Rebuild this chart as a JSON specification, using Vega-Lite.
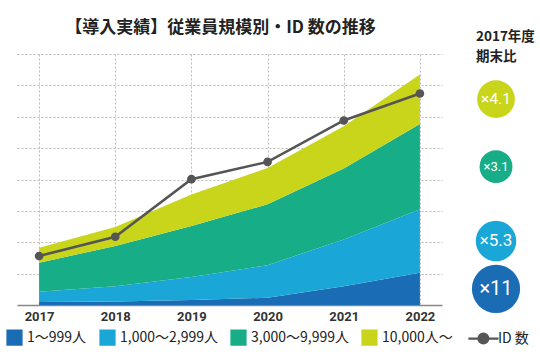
{
  "$schema": "https://vega.github.io/schema/vega-lite/v6.json",
  "padding": {"left": 6, "top": 19, "right": 0, "bottom": 2},
  "background": "white",
  "bounds": "flush",
  "spacing": 9,
  "datasets": {
    "areas": [
      {"year": 2017, "category": "1〜999人", "value": 0.95},
      {"year": 2017, "category": "1,000〜2,999人", "value": 3.3},
      {"year": 2017, "category": "3,000〜9,999人", "value": 9.25},
      {"year": 2017, "category": "10,000人〜", "value": 4.75},
      {"year": 2018, "category": "1〜999人", "value": 1.1},
      {"year": 2018, "category": "1,000〜2,999人", "value": 4.85},
      {"year": 2018, "category": "3,000〜9,999人", "value": 12.85},
      {"year": 2018, "category": "10,000人〜", "value": 6.1},
      {"year": 2019, "category": "1〜999人", "value": 1.6},
      {"year": 2019, "category": "1,000〜2,999人", "value": 7.3},
      {"year": 2019, "category": "3,000〜9,999人", "value": 16.3},
      {"year": 2019, "category": "10,000人〜", "value": 10.0},
      {"year": 2020, "category": "1〜999人", "value": 2.3},
      {"year": 2020, "category": "1,000〜2,999人", "value": 10.4},
      {"year": 2020, "category": "3,000〜9,999人", "value": 19.4},
      {"year": 2020, "category": "10,000人〜", "value": 11.6},
      {"year": 2021, "category": "1〜999人", "value": 6.0},
      {"year": 2021, "category": "1,000〜2,999人", "value": 14.9},
      {"year": 2021, "category": "3,000〜9,999人", "value": 22.6},
      {"year": 2021, "category": "10,000人〜", "value": 13.5},
      {"year": 2022, "category": "1〜999人", "value": 10.3},
      {"year": 2022, "category": "1,000〜2,999人", "value": 20.2},
      {"year": 2022, "category": "3,000〜9,999人", "value": 27.2},
      {"year": 2022, "category": "10,000人〜", "value": 15.8}
    ],
    "ids": [
      {"year": 2017, "ids": 15.6},
      {"year": 2018, "ids": 21.75},
      {"year": 2019, "ids": 40.1},
      {"year": 2020, "ids": 45.6},
      {"year": 2021, "ids": 58.8},
      {"year": 2022, "ids": 67.4}
    ],
    "ratios": [
      {"category": "1〜999人", "ratio": 11},
      {"category": "1,000〜2,999人", "ratio": 5.3},
      {"category": "3,000〜9,999人", "ratio": 3.1},
      {"category": "10,000人〜", "ratio": 4.1}
    ]
  },
  "config": {
    "view": {"stroke": null},
    "font": "Noto Sans CJK JP",
    "legend": {"symbolType": "square"},
    "axisY": {
      "title": null, "labels": false, "ticks": false, "domain": false,
      "grid": true, "values": [10, 20, 30, 40, 50, 60, 70, 80],
      "gridDash": [2, 2], "gridColor": "#bbbbbb", "minExtent": 9
    }
  },
  "hconcat": [
    {
      "width": 425,
      "height": 251,
      "title": {
        "text": "【導入実績】従業員規模別・ID 数の推移",
        "font": "Noto Sans CJK JP",
        "fontSize": 17,
        "fontWeight": "bold",
        "color": "#222222",
        "anchor": "middle",
        "dx": -9,
        "baseline": "bottom",
        "offset": 0
      },
      "layer": [
        {
          "data": {"name": "areas"},
          "transform": [
            {"calculate": "indexof(['1〜999人','1,000〜2,999人','3,000〜9,999人','10,000人〜'], datum.category)", "as": "k"}
          ],
          "mark": {"type": "area"},
          "encoding": {
            "x": {
              "field": "year", "type": "ordinal",
              "scale": {"type": "point", "padding": 0.29},
              "axis": {
                "title": null, "labelAngle": 0, "labelFont": "Roboto", "labelFontWeight": "bold",
                "labelFontSize": 13, "labelColor": "#333333", "ticks": false, "labelPadding": 5,
                "domainColor": "#888888", "domainWidth": 1.5,
                "grid": true, "gridDash": [2, 2], "gridColor": "#bbbbbb"
              }
            },
            "y": {
              "field": "value", "type": "quantitative", "stack": "zero",
              "scale": {"domain": [0, 80], "nice": false},
              "axis": {
                "title": null, "labels": false, "ticks": false, "domain": false,
                "grid": true, "values": [10, 20, 30, 40, 50, 60, 70, 80],
                "gridDash": [2, 2], "gridColor": "#bbbbbb", "minExtent": 9
              }
            },
            "color": {
              "field": "category", "type": "nominal",
              "scale": {
                "domain": ["1〜999人", "1,000〜2,999人", "3,000〜9,999人", "10,000人〜", "ID 数"],
                "range": ["#1a6db5", "#1ba6d8", "#17ad86", "#c9d51a", "#555555"]
              },
              "legend": {
                "title": null, "orient": "none", "legendX": -11, "legendY": 275,
                "direction": "horizontal", "columns": 5,
                "symbolType": "square", "symbolSize": 196, "symbolStrokeWidth": 2.2,
                "labelFont": "Noto Sans CJK JP", "labelFontSize": 14, "labelColor": "#222222",
                "columnPadding": 9, "labelOffset": 4,
                "encode": {
                  "symbols": {
                    "update": {
                      "shape": [
                        {"test": "datum.value === 'ID 数'", "value": "M-0.3,0H4M1.14,0a0.7,0.7 0 1,0 1.4,0a0.7,0.7 0 1,0 -1.4,0Z"},
                        {"value": "square"}
                      ],
                      "stroke": [
                        {"test": "datum.value === 'ID 数'", "value": "#555555"},
                        {"value": "transparent"}
                      ]
                    }
                  },
                  "labels": {
                    "update": {
                      "dx": [
                        {"test": "datum.value === 'ID 数'", "value": 15},
                        {"value": 0}
                      ]
                    }
                  }
                }
              }
            },
            "order": {"field": "k", "type": "quantitative", "sort": "ascending"}
          }
        },
        {
          "data": {"name": "ids"},
          "mark": {"type": "line", "strokeWidth": 2.5, "point": {"filled": true, "size": 75}},
          "encoding": {
            "x": {"field": "year", "type": "ordinal"},
            "y": {
              "field": "ids", "type": "quantitative",
              "axis": {
                "title": null, "labels": false, "ticks": false, "domain": false,
                "grid": true, "values": [10, 20, 30, 40, 50, 60, 70, 80],
                "gridDash": [2, 2], "gridColor": "#bbbbbb", "minExtent": 9
              }
            },
            "color": {"datum": "ID 数"}
          }
        }
      ]
    },
    {
      "width": 90,
      "height": 251,
      "title": {
        "text": ["2017年度", "期末比"],
        "font": "Noto Sans CJK JP",
        "fontSize": 13.5,
        "fontWeight": "bold",
        "color": "#222222",
        "anchor": "start",
        "dx": 25,
        "lineHeight": 20,
        "baseline": "bottom",
        "offset": -23
      },
      "data": {"name": "areas"},
      "transform": [
        {"filter": "datum.year == 2022"},
        {"calculate": "indexof(['1〜999人','1,000〜2,999人','3,000〜9,999人','10,000人〜'], datum.category)", "as": "k"},
        {"stack": "value", "groupby": ["year"], "sort": [{"field": "k", "order": "ascending"}], "as": ["v0", "v1"]},
        {"calculate": "(datum.v0 + datum.v1) / 2", "as": "mid"},
        {"lookup": "category", "from": {"data": {"name": "ratios"}, "key": "category", "fields": ["ratio"]}},
        {"calculate": "'×' + datum.ratio", "as": "label"}
      ],
      "layer": [
        {
          "mark": {"type": "circle", "opacity": 1},
          "encoding": {
            "y": {"field": "mid", "type": "quantitative", "scale": {"domain": [0, 80], "nice": false}, "axis": null},
            "color": {"field": "category", "type": "nominal"},
            "size": {
              "field": "ratio", "type": "quantitative",
              "scale": {"domain": [3.1, 4.1, 5.3, 11], "range": [1080, 1420, 1640, 2330], "zero": false},
              "legend": null
            }
          }
        },
        {
          "mark": {"type": "text", "color": "white", "font": "Roboto"},
          "encoding": {
            "y": {"field": "mid", "type": "quantitative", "axis": null},
            "text": {"field": "label"},
            "size": {
              "field": "ratio", "type": "quantitative",
              "scale": {"domain": [3.1, 4.1, 5.3, 11], "range": [13, 15.5, 17, 20], "zero": false},
              "legend": null
            }
          }
        }
      ],
      "resolve": {"scale": {"size": "independent"}}
    }
  ],
  "resolve": {"scale": {"y": "shared", "color": "shared"}}
}
